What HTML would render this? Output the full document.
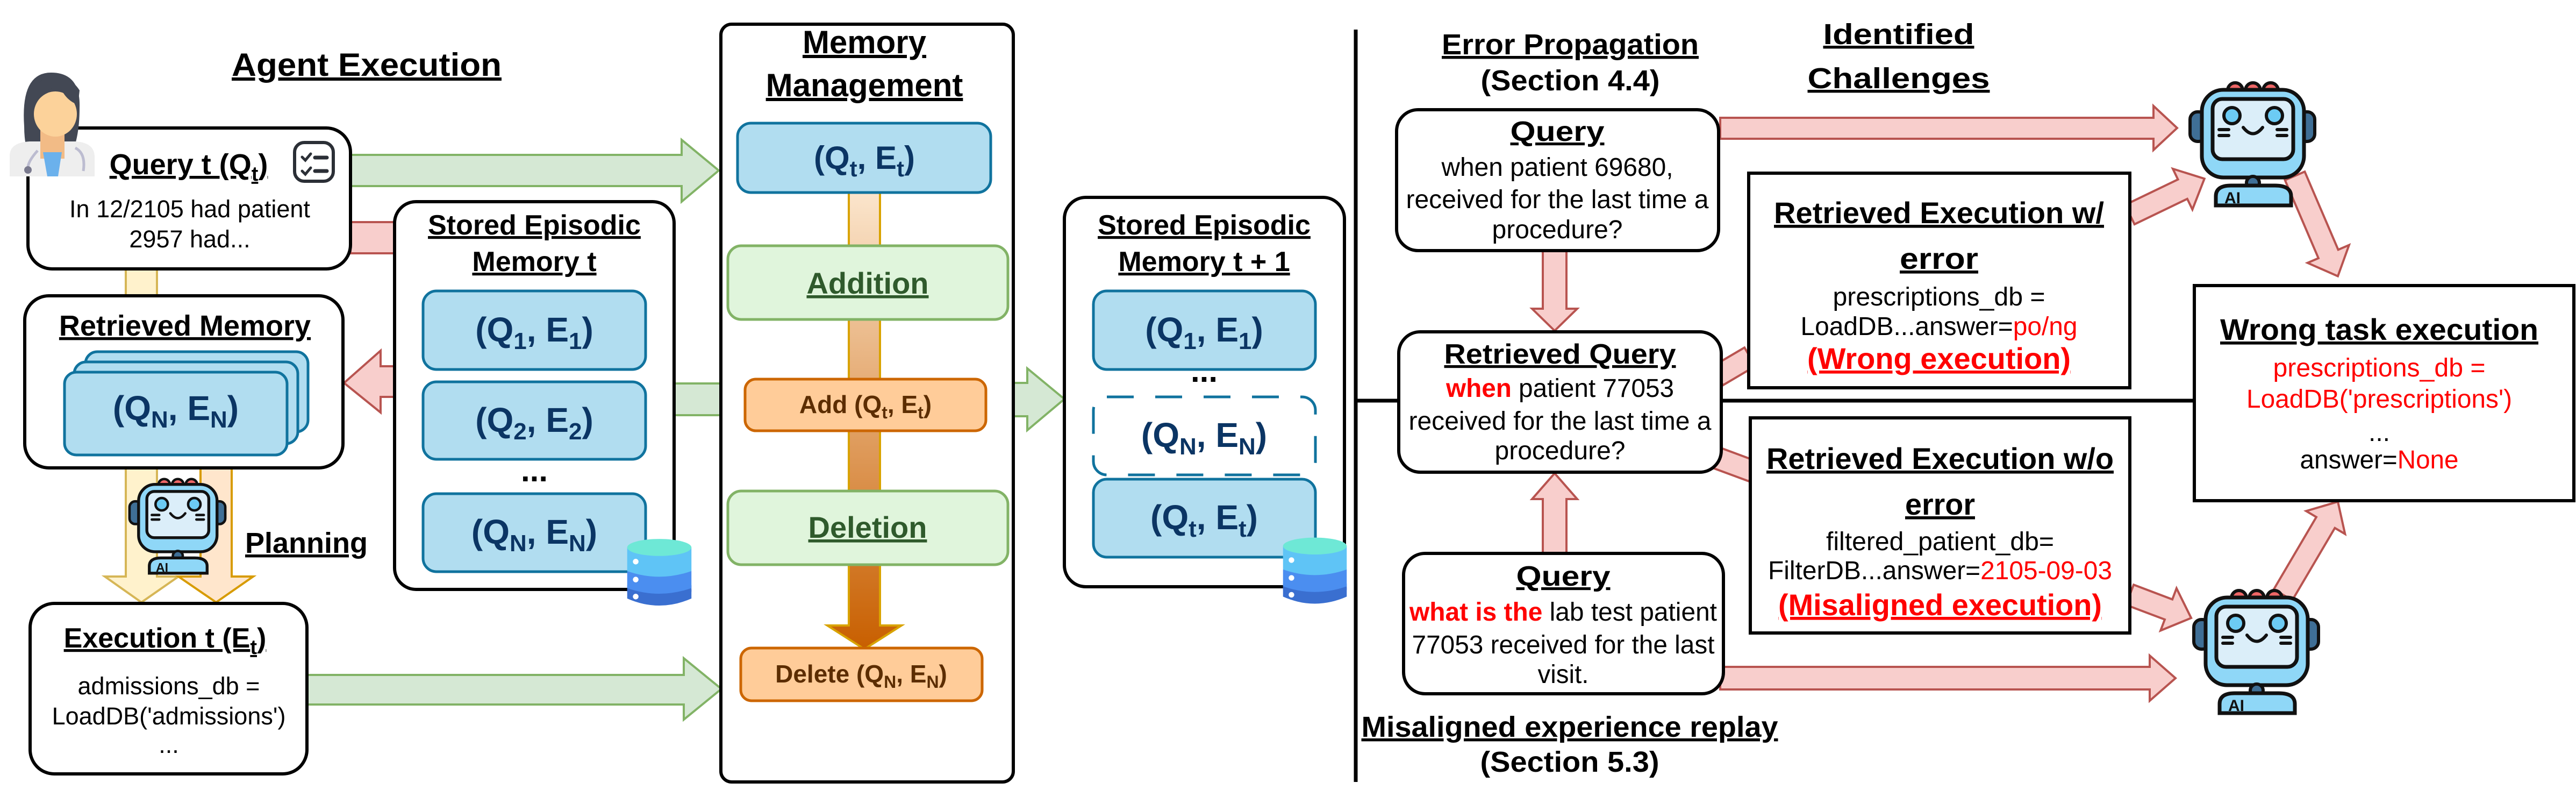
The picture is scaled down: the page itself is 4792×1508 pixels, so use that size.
<!DOCTYPE html>
<html><head><meta charset="utf-8"><style>
html,body{margin:0;padding:0;background:#fff;}
svg{display:block;}
text{font-family:"Liberation Sans",sans-serif;}
</style></head><body>
<svg width="4792" height="1508" viewBox="0 0 4792 1508" xmlns="http://www.w3.org/2000/svg">
<defs>
<symbol id="robot" viewBox="0 0 260 250">
  <circle cx="98" cy="28" r="14" fill="#e66" stroke="#111" stroke-width="6"/>
  <circle cx="131" cy="28" r="14" fill="#e66" stroke="#111" stroke-width="6"/>
  <circle cx="164" cy="28" r="14" fill="#e66" stroke="#111" stroke-width="6"/>
  <rect x="14" y="68" width="30" height="55" rx="14" fill="#3f6f96" stroke="#111" stroke-width="6"/>
  <rect x="216" y="68" width="30" height="55" rx="14" fill="#3f6f96" stroke="#111" stroke-width="6"/>
  <rect x="36" y="27" width="190" height="163" rx="40" fill="#8fd7f7" stroke="#111" stroke-width="7"/>
  <rect x="56" y="44" width="150" height="112" rx="18" fill="#dbeef9" stroke="#111" stroke-width="7"/>
  <circle cx="92" cy="75" r="15" fill="#6ccbf4" stroke="#111" stroke-width="6"/>
  <circle cx="171" cy="75" r="15" fill="#6ccbf4" stroke="#111" stroke-width="6"/>
  <path d="M113 97 Q131 120 149 97" fill="none" stroke="#111" stroke-width="6" stroke-linecap="round"/>
  <path d="M68 101h18M68 112h18M176 101h18M176 112h18" stroke="#111" stroke-width="6" stroke-linecap="round"/>
  <circle cx="131" cy="200" r="12" fill="#3f6f96" stroke="#111" stroke-width="6"/>
  <path d="M62 242 V225 Q62 205 90 205 H172 Q202 205 202 225 V242 Z" fill="#8fd7f7" stroke="#111" stroke-width="7"/>
  <text x="78" y="238" font-size="30" font-weight="bold" fill="#111">AI</text>
</symbol>
<symbol id="db" viewBox="0 0 140 150">
  <path d="M2 110 V130 Q70 160 138 130 V110 Z" fill="#3a6fd0"/>
  <rect x="2" y="102" width="136" height="14" fill="#3a6fd0"/>
  <path d="M2 72 V108 Q70 132 138 108 V72 Z" fill="#4b8ef0"/>
  <path d="M2 22 V72 Q70 96 138 72 V22 Z" fill="#5fc4f6"/>
  <ellipse cx="70" cy="22" rx="68" ry="18" fill="#6ee8d6"/>
  <circle cx="20" cy="52" r="6" fill="#fff"/><circle cx="20" cy="90" r="6" fill="#fff"/><circle cx="20" cy="126" r="6" fill="#fff"/>
</symbol>
<linearGradient id="og" x1="0" y1="0" x2="0" y2="1"><stop offset="0" stop-color="#fbe5cc"/><stop offset="1" stop-color="#c85f00"/></linearGradient>
</defs>

<!-- ===== LEFT: arrows behind ===== -->
<rect x="652" y="413" width="90" height="58" fill="#f8cecc" stroke="#b85450" stroke-width="4"/>
<polygon points="652,288 1268,288 1268,260 1337,317 1268,375 1268,346 652,346" fill="#d5e8d4" stroke="#82b366" stroke-width="4"/>
<rect x="1250" y="713" width="95" height="59" fill="#d5e8d4" stroke="#82b366" stroke-width="4"/>
<polygon points="571,1255 1272,1255 1272,1224 1342,1281 1272,1338 1272,1310 571,1310" fill="#d5e8d4" stroke="#82b366" stroke-width="4"/>
<polygon points="1885,712 1911,712 1911,685 1980,742 1911,800 1911,774 1885,774" fill="#d5e8d4" stroke="#82b366" stroke-width="4"/>
<polygon points="740,681 708,681 708,652 640,712 708,767 708,738 740,738" fill="#f8cecc" stroke="#b85450" stroke-width="4"/>
<rect x="234" y="495" width="58" height="60" fill="#fff2cc" stroke="#d6b656" stroke-width="4"/>
<polygon points="234,868 292,868 292,1072 332,1072 263,1120 195,1072 234,1072" fill="#fff2cc" stroke="#d6b656" stroke-width="4"/>
<polygon points="373,868 431,868 431,1072 471,1072 402,1120 332,1072 373,1072" fill="#ffe6cc" stroke="#d79b00" stroke-width="4"/>

<text x="682" y="141" font-size="60" font-weight="bold" text-anchor="middle" text-decoration="underline" textLength="502" lengthAdjust="spacingAndGlyphs">Agent Execution</text>

<!-- Query box -->
<rect x="52" y="238" width="600" height="262" rx="45" fill="#fff" stroke="#000" stroke-width="6"/>
<text x="351" y="324" font-size="54" font-weight="bold" text-anchor="middle" text-decoration="underline">Query t (Q<tspan font-size="38" dy="12">t</tspan><tspan dy="-12">)</tspan></text>
<text x="353" y="404" font-size="45" text-anchor="middle">In 12/2105 had patient</text>
<text x="353" y="460" font-size="45" text-anchor="middle">2957 had...</text>
<rect x="548" y="265" width="72" height="72" rx="18" fill="#fff" stroke="#2b2f36" stroke-width="6"/>
<path d="M562 292l6 6 10-12M562 318l6 6 10-12" fill="none" stroke="#2b2f36" stroke-width="5" stroke-linecap="round"/>
<path d="M586 293h22M586 318h22" stroke="#2b2f36" stroke-width="7" stroke-linecap="round"/>
<!-- doctor -->
<path d="M45 235 Q38 135 95 135 Q150 135 148 200 Q148 260 130 292 H55 Q45 270 45 235Z" fill="#434854"/>
<path d="M18 328 V290 Q18 265 55 263 H140 Q176 265 176 292 V328 Z" fill="#eeeeee"/>
<rect x="75" y="235" width="45" height="60" fill="#f2bb86"/>
<polygon points="80,283 115,283 108,328 88,328" fill="#6bb1ec"/>
<ellipse cx="103" cy="212" rx="40" ry="42" fill="#fcd29a"/>
<path d="M62 200 Q70 168 112 160 Q120 185 145 195 L148 168 Q130 140 95 140 Q60 150 62 200Z" fill="#434854"/>
<path d="M70 280 Q52 300 52 312 M140 275 Q160 285 155 318" fill="none" stroke="#bcbcd0" stroke-width="5"/>
<circle cx="52" cy="316" r="7" fill="#7a7a8e"/>

<!-- Stored episodic t -->
<rect x="734" y="375" width="520" height="721" rx="40" fill="#fff" stroke="#000" stroke-width="6"/>
<text x="994" y="436" font-size="52" font-weight="bold" text-anchor="middle" text-decoration="underline">Stored Episodic</text>
<text x="994" y="504" font-size="52" font-weight="bold" text-anchor="middle" text-decoration="underline">Memory t</text>
<g fill="#b1ddf0" stroke="#10739e" stroke-width="5">
<rect x="787" y="541" width="414" height="146" rx="25"/>
<rect x="787" y="710" width="414" height="144" rx="25"/>
<rect x="787" y="918" width="414" height="145" rx="25"/>
</g>
<g font-size="64" font-weight="bold" fill="#0b3564" text-anchor="middle">
<text x="994" y="635">(Q<tspan font-size="44" dy="14">1</tspan><tspan dy="-14">, E</tspan><tspan font-size="44" dy="14">1</tspan><tspan dy="-14">)</tspan></text>
<text x="994" y="803">(Q<tspan font-size="44" dy="14">2</tspan><tspan dy="-14">, E</tspan><tspan font-size="44" dy="14">2</tspan><tspan dy="-14">)</tspan></text>
<text x="994" y="1011">(Q<tspan font-size="44" dy="14">N</tspan><tspan dy="-14">, E</tspan><tspan font-size="44" dy="14">N</tspan><tspan dy="-14">)</tspan></text>
</g>
<text x="994" y="895" font-size="60" font-weight="bold" text-anchor="middle">...</text>
<use href="#db" x="1165" y="990" width="123" height="149"/>

<!-- Retrieved memory -->
<rect x="46" y="550" width="592" height="320" rx="45" fill="#fff" stroke="#000" stroke-width="6"/>
<text x="344" y="624" font-size="54" font-weight="bold" text-anchor="middle" text-decoration="underline">Retrieved Memory</text>
<g fill="#b1ddf0" stroke="#10739e" stroke-width="5">
<rect x="159" y="654" width="414" height="149" rx="22"/>
<rect x="138" y="673" width="416" height="152" rx="22"/>
<rect x="120" y="692" width="414" height="154" rx="22"/>
</g>
<text x="327" y="781" font-size="64" font-weight="bold" fill="#0b3564" text-anchor="middle">(Q<tspan font-size="44" dy="14">N</tspan><tspan dy="-14">, E</tspan><tspan font-size="44" dy="14">N</tspan><tspan dy="-14">)</tspan></text>
<use href="#robot" x="230" y="880" width="200" height="192"/>
<text x="570" y="1028" font-size="54" font-weight="bold" text-anchor="middle" text-decoration="underline">Planning</text>

<!-- Execution -->
<rect x="56" y="1122" width="515" height="317" rx="45" fill="#fff" stroke="#000" stroke-width="6"/>
<text x="307" y="1204" font-size="52" font-weight="bold" text-anchor="middle" text-decoration="underline">Execution t (E<tspan font-size="38" dy="12">t</tspan><tspan dy="-12">)</tspan></text>
<text x="314" y="1291" font-size="45" text-anchor="middle">admissions_db =</text>
<text x="314" y="1347" font-size="45" text-anchor="middle">LoadDB('admissions')</text>
<text x="314" y="1400" font-size="45" text-anchor="middle">...</text>

<!-- Memory management -->
<rect x="1341" y="45" width="544" height="1409" rx="20" fill="#fff" stroke="#000" stroke-width="6"/>
<text x="1608" y="99" font-size="60" font-weight="bold" text-anchor="middle" text-decoration="underline"> Memory</text>
<text x="1608" y="179" font-size="60" font-weight="bold" text-anchor="middle" text-decoration="underline">Management</text>
<polygon points="1579,358 1637,358 1637,1163 1677,1163 1608,1207 1539,1163 1579,1163" fill="url(#og)" stroke="#d9a300" stroke-width="4"/>
<rect x="1372" y="229" width="471" height="129" rx="25" fill="#b1ddf0" stroke="#10739e" stroke-width="5"/>
<text x="1608" y="314" font-size="60" font-weight="bold" fill="#0b3564" text-anchor="middle">(Q<tspan font-size="42" dy="14">t</tspan><tspan dy="-14">, E</tspan><tspan font-size="42" dy="14">t</tspan><tspan dy="-14">)</tspan></text>
<rect x="1354" y="457" width="521" height="137" rx="25" fill="#e0f5dc" stroke="#82b366" stroke-width="5"/>
<text x="1614" y="546" font-size="56" font-weight="bold" fill="#2f5a2c" text-anchor="middle" text-decoration="underline">Addition</text>
<rect x="1386" y="705" width="448" height="96" rx="20" fill="#ffcc99" stroke="#cc6600" stroke-width="5"/>
<text x="1610" y="768" font-size="46" font-weight="bold" fill="#5c2d00" text-anchor="middle">Add (Q<tspan font-size="32" dy="10">t</tspan><tspan dy="-10">, E</tspan><tspan font-size="32" dy="10">t</tspan><tspan dy="-10">)</tspan></text>
<rect x="1354" y="913" width="521" height="137" rx="25" fill="#e0f5dc" stroke="#82b366" stroke-width="5"/>
<text x="1614" y="1000" font-size="56" font-weight="bold" fill="#2f5a2c" text-anchor="middle" text-decoration="underline">Deletion</text>
<rect x="1378" y="1205" width="449" height="98" rx="20" fill="#ffcc99" stroke="#cc6600" stroke-width="5"/>
<text x="1602" y="1269" font-size="46" font-weight="bold" fill="#5c2d00" text-anchor="middle">Delete (Q<tspan font-size="32" dy="10">N</tspan><tspan dy="-10">, E</tspan><tspan font-size="32" dy="10">N</tspan><tspan dy="-10">)</tspan></text>

<!-- Stored t+1 -->
<rect x="1980" y="367" width="521" height="724" rx="40" fill="#fff" stroke="#000" stroke-width="6"/>
<text x="2240" y="436" font-size="52" font-weight="bold" text-anchor="middle" text-decoration="underline">Stored Episodic</text>
<text x="2240" y="504" font-size="52" font-weight="bold" text-anchor="middle" text-decoration="underline">Memory t + 1</text>
<rect x="2034" y="541" width="413" height="146" rx="25" fill="#b1ddf0" stroke="#10739e" stroke-width="5"/>
<text x="2240" y="710" font-size="60" font-weight="bold" text-anchor="middle">...</text>
<rect x="2034" y="738" width="413" height="145" rx="25" fill="#fff" stroke="#10739e" stroke-width="5" stroke-dasharray="50,40"/>
<rect x="2034" y="891" width="413" height="145" rx="25" fill="#b1ddf0" stroke="#10739e" stroke-width="5"/>
<g font-size="64" font-weight="bold" fill="#0b3564" text-anchor="middle">
<text x="2240" y="635">(Q<tspan font-size="44" dy="14">1</tspan><tspan dy="-14">, E</tspan><tspan font-size="44" dy="14">1</tspan><tspan dy="-14">)</tspan></text>
<text x="2240" y="831">(Q<tspan font-size="44" dy="14">N</tspan><tspan dy="-14">, E</tspan><tspan font-size="44" dy="14">N</tspan><tspan dy="-14">)</tspan></text>
<text x="2240" y="984">(Q<tspan font-size="44" dy="14">t</tspan><tspan dy="-14">, E</tspan><tspan font-size="44" dy="14">t</tspan><tspan dy="-14">)</tspan></text>
</g>
<use href="#db" x="2385" y="988" width="122" height="147"/>

<!-- ===== RIGHT ===== -->
<line x1="2522" y1="55" x2="2522" y2="1454" stroke="#000" stroke-width="7"/>
<line x1="2522" y1="745" x2="4090" y2="745" stroke="#000" stroke-width="7"/>

<g fill="#f8cecc" stroke="#b85450" stroke-width="4">
<polygon points="3200,219 4006,219 4006,197 4050,238 4006,279 4006,258 3200,258"/>
<polygon points="3200,1240 3999,1240 3999,1219 4047,1261 3999,1303 3999,1282 3200,1282"/>
<polygon points="2870,466 2914,466 2914,574 2934,574 2892,615 2850,574 2870,574"/>
<polygon points="2870,1029 2914,1029 2914,928 2934,928 2892,880 2850,928 2870,928"/>
<rect x="0" y="-20" width="70" height="40" transform="translate(3195,699) rotate(-30.5)"/>
<rect x="0" y="-20" width="70" height="40" transform="translate(3195,852) rotate(20.3)"/>
<polygon points="0,-20 109,-20 109,-42 154,0 109,42 109,20 0,20" transform="translate(3962,399) rotate(-25.7)"/>
<polygon points="0,-20 158,-20 158,-42 203,0 158,42 158,20 0,20" transform="translate(4269,327) rotate(66.8)"/>
<polygon points="0,-20 77,-20 77,-42 122,0 77,42 77,20 0,20" transform="translate(3962,1106) rotate(20.7)"/>
<polygon points="0,-20 156,-20 156,-42 201,0 156,42 156,20 0,20" transform="translate(4247,1106) rotate(-59.5)"/>
</g>

<g font-weight="bold" text-anchor="middle" font-size="54">
<text x="2921" y="101" textLength="478" lengthAdjust="spacingAndGlyphs" text-decoration="underline">Error Propagation</text>
<text x="2921" y="168" textLength="333" lengthAdjust="spacingAndGlyphs">(Section 4.4)</text>
<text x="3532" y="82" textLength="281" lengthAdjust="spacingAndGlyphs" text-decoration="underline">Identified</text>
<text x="3532" y="164" textLength="339" lengthAdjust="spacingAndGlyphs" text-decoration="underline">Challenges</text>
<text x="2920" y="1370" textLength="775" lengthAdjust="spacingAndGlyphs" text-decoration="underline">Misaligned experience replay</text>
<text x="2920" y="1435" textLength="333" lengthAdjust="spacingAndGlyphs">(Section 5.3)</text>
</g>

<!-- Query 1 -->
<rect x="2598" y="204" width="599" height="262" rx="40" fill="#fff" stroke="#000" stroke-width="6"/>
<g text-anchor="middle" font-size="48">
<text x="2897" y="262" font-weight="bold" font-size="52" textLength="175" lengthAdjust="spacingAndGlyphs" text-decoration="underline">Query</text>
<text x="2897" y="327" textLength="431" lengthAdjust="spacingAndGlyphs">when patient 69680,</text>
<text x="2897" y="387" textLength="563" lengthAdjust="spacingAndGlyphs">received for the last time a</text>
<text x="2897" y="443" textLength="243" lengthAdjust="spacingAndGlyphs">procedure?</text>
</g>
<!-- Retrieved Query -->
<rect x="2602" y="617" width="600" height="261" rx="40" fill="#fff" stroke="#000" stroke-width="6"/>
<g text-anchor="middle" font-size="48">
<text x="2902" y="676" font-weight="bold" font-size="52" textLength="431" lengthAdjust="spacingAndGlyphs" text-decoration="underline">Retrieved Query</text>
<text x="2902" y="738" textLength="424" lengthAdjust="spacingAndGlyphs"><tspan fill="#f00" font-weight="bold">when</tspan> patient 77053</text>
<text x="2902" y="799" textLength="563" lengthAdjust="spacingAndGlyphs">received for the last time a</text>
<text x="2902" y="854" textLength="243" lengthAdjust="spacingAndGlyphs">procedure?</text>
</g>
<!-- Query 3 -->
<rect x="2611" y="1029" width="595" height="261" rx="40" fill="#fff" stroke="#000" stroke-width="6"/>
<g text-anchor="middle" font-size="48">
<text x="2908" y="1089" font-weight="bold" font-size="52" textLength="175" lengthAdjust="spacingAndGlyphs" text-decoration="underline">Query</text>
<text x="2908" y="1154" textLength="572" lengthAdjust="spacingAndGlyphs"><tspan fill="#f00" font-weight="bold">what is the</tspan> lab test patient</text>
<text x="2908" y="1215" textLength="563" lengthAdjust="spacingAndGlyphs">77053 received for the last</text>
<text x="2908" y="1270" textLength="95" lengthAdjust="spacingAndGlyphs">visit.</text>
</g>

<!-- Exec w/ error -->
<rect x="3253" y="322" width="709" height="399" fill="#fff" stroke="#000" stroke-width="6"/>
<g text-anchor="middle" font-size="48">
<text x="3607" y="415" font-weight="bold" font-size="56" textLength="614" lengthAdjust="spacingAndGlyphs" text-decoration="underline">Retrieved Execution w/</text>
<text x="3607" y="500" font-weight="bold" font-size="56" textLength="146" lengthAdjust="spacingAndGlyphs" text-decoration="underline">error </text>
<text x="3607" y="568" textLength="395" lengthAdjust="spacingAndGlyphs">prescriptions_db =</text>
<text x="3607" y="623" textLength="515" lengthAdjust="spacingAndGlyphs">LoadDB...answer=<tspan fill="#f00">po/ng</tspan></text>
<text x="3607" y="686" font-weight="bold" font-size="56" fill="#f00" textLength="490" lengthAdjust="spacingAndGlyphs" text-decoration="underline">(Wrong execution)</text>
</g>
<!-- Exec w/o error -->
<rect x="3256" y="777" width="706" height="400" fill="#fff" stroke="#000" stroke-width="6"/>
<g text-anchor="middle" font-size="48">
<text x="3609" y="872" font-weight="bold" font-size="56" textLength="646" lengthAdjust="spacingAndGlyphs" text-decoration="underline">Retrieved Execution w/o</text>
<text x="3609" y="957" font-weight="bold" font-size="56" textLength="130" lengthAdjust="spacingAndGlyphs" text-decoration="underline">error</text>
<text x="3609" y="1023" textLength="424" lengthAdjust="spacingAndGlyphs">filtered_patient_db=</text>
<text x="3609" y="1077" textLength="640" lengthAdjust="spacingAndGlyphs">FilterDB...answer=<tspan fill="#f00">2105-09-03</tspan></text>
<text x="3609" y="1144" font-weight="bold" font-size="56" fill="#f00" textLength="602" lengthAdjust="spacingAndGlyphs" text-decoration="underline">(Misaligned execution)</text>
</g>
<!-- Wrong task execution -->
<rect x="4082" y="531" width="706" height="400" fill="#fff" stroke="#000" stroke-width="6"/>
<g text-anchor="middle" font-size="48">
<text x="4426" y="632" font-weight="bold" font-size="56" textLength="592" lengthAdjust="spacingAndGlyphs" text-decoration="underline">Wrong task execution </text>
<text x="4426" y="700" fill="#f00" textLength="395" lengthAdjust="spacingAndGlyphs">prescriptions_db =</text>
<text x="4426" y="758" fill="#f00" textLength="494" lengthAdjust="spacingAndGlyphs">LoadDB('prescriptions')</text>
<text x="4426" y="820">...</text>
<text x="4426" y="871" textLength="295" lengthAdjust="spacingAndGlyphs">answer=<tspan fill="#f00">None</tspan></text>
</g>

<use href="#robot" x="4060" y="140" width="260" height="250"/>
<use href="#robot" x="4067" y="1084" width="260" height="250"/>
</svg>
</body></html>
